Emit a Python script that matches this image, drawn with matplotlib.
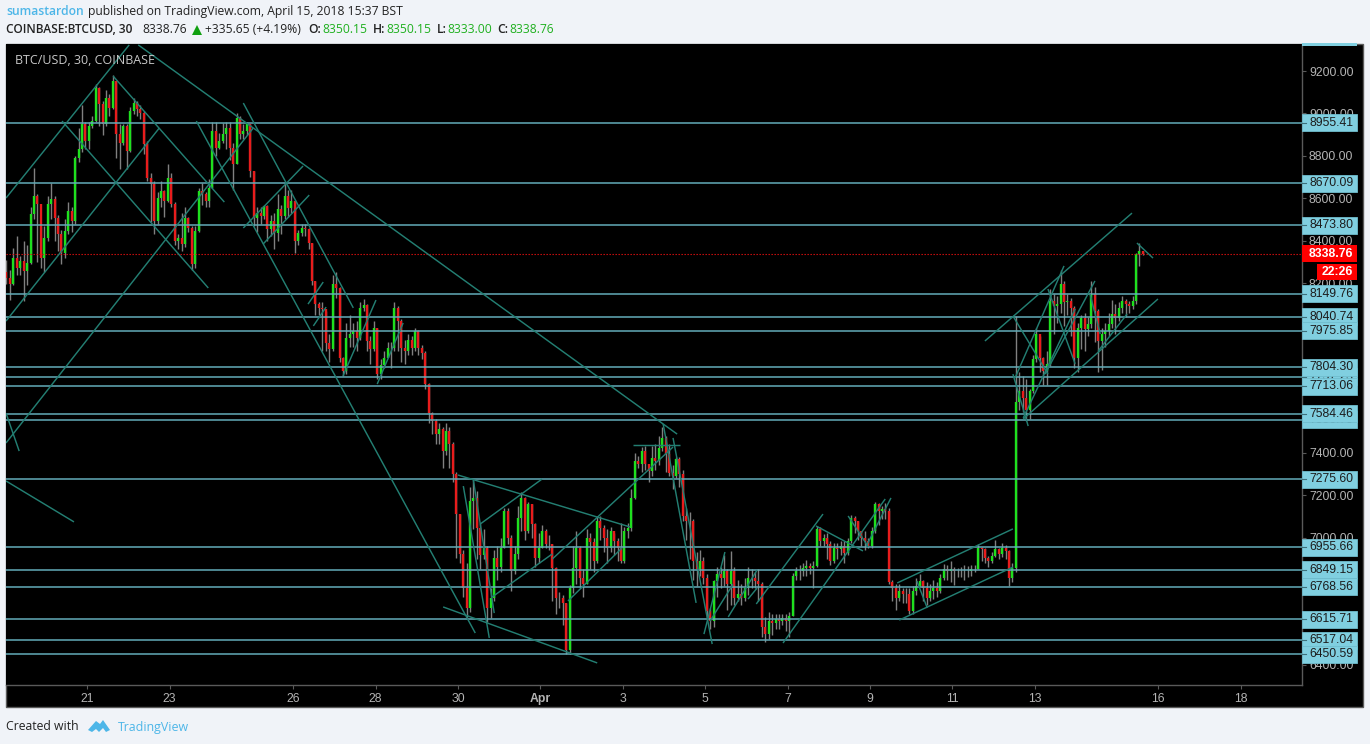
import matplotlib
matplotlib.use("Agg")
import matplotlib.pyplot as plt
from matplotlib.patches import Rectangle, Polygon
from matplotlib.lines import Line2D

W, H = 1370, 744

# ---- data: day number counted from March (Apr 1 = 32) -> 12 two-hour bars per day
days = list(range(19, 47))
closes = [
 [8225,8194,8320,8273,8304,8257,8296,8524,8610,8571,8320,8414],
 [8571,8595,8508,8430,8343,8445,8540,8493,8791,8831,8948,8870],
 [8941,8964,9121,9043,8948,9074,9027,9153,8901,8862,8941,8823],
 [9011,9051,9019,9004,8854,8697,8666,8493,8603,8634,8587,8697],
 [8571,8398,8414,8383,8508,8461,8288,8445,8634,8618,8587,8650],
 [8917,8838,8870,8901,8933,8838,8760,8980,8901,8917,8948,8730],
 [8508,8532,8516,8563,8453,8492,8437,8547,8516,8610,8555,8586],
 [8398,8437,8461,8453,8390,8209,8100,8084,8076,7918,7887,8194],
 [8178,7848,7785,7942,7958,7973,7942,8083,8099,7926,7887,7989],
 [7769,7816,7848,7895,7895,8083,8020,7895,7879,7934,7895,7973],
 [7896,7872,7723,7589,7550,7487,7510,7408,7503,7440,7298,7110],
 [6921,6764,6669,7172,7188,7047,6920,6950,6669,6717,6905,6860],
 [6952,7125,7000,6842,6921,7094,7188,7031,7157,7062,6905,6952],
 [7031,6968,6968,6858,6717,6717,6690,6470,6764,6858,6952,6811],
 [6780,7000,6980,6889,7078,7047,7000,6952,7031,6984,6952,6890],
 [7031,7047,7188,7361,7345,7408,7345,7314,7377,7361,7424,7471],
 [7393,7306,7290,7369,7300,7100,7078,7078,6890,6850,6890,6811],
 [6654,6607,6795,6827,6811,6842,6780,6842,6717,6732,6717,6764],
 [6811,6811,6795,6780,6580,6545,6607,6595,6615,6607,6620,6607],
 [6630,6820,6842,6842,6858,6866,6858,6866,7040,6984,7000,6968],
 [6890,6953,6945,6960,6929,6984,7094,7078,7031,7000,6984,6960],
 [7031,7157,7126,7133,7126,6790,6764,6717,6748,6732,6732,6654],
 [6748,6772,6796,6764,6717,6748,6764,6748,6811,6851,6843,6851],
 [6843,6843,6843,6843,6843,6851,6851,6953,6945,6906,6890,6913],
 [6945,6921,6953,6937,6811,6858,7640,7690,7660,7600,7690,7840],
 [7958,7848,7785,7817,8115,8090,8100,8194,8110,8115,8084,7848],
 [7990,8037,7982,8005,8147,8068,7927,7958,7974,8005,8052,8037],
 [8084,8115,8100,8092,8115,8335,8351,8338.76],
]
highs = [
 [8310,8260,8365,8420,8330,8400,8380,8560,8745,8620,8470,8470],
 [8610,8670,8610,8520,8450,8500,8580,8560,8800,8930,9040,8960],
 [8960,8990,9140,9125,9060,9110,9090,9180,9155,8950,8950,8950],
 [9030,9075,9060,9040,9010,8870,8720,8680,8630,8680,8640,8760],
 [8720,8580,8430,8530,8560,8510,8470,8470,8650,8670,8630,8690],
 [8960,8960,8910,8955,8960,8960,8860,9000,8990,8950,8960,8950],
 [8730,8560,8560,8570,8570,8520,8530,8620,8570,8665,8640,8640],
 [8590,8450,8480,8480,8460,8390,8210,8110,8110,8070,7960,8240],
 [8250,8180,7850,8010,8050,8010,8020,8110,8125,8100,7950,8020],
 [7990,7840,7880,7920,7920,8110,8090,8030,7930,7960,7950,7990],
 [7980,7910,7880,7730,7590,7560,7540,7520,7540,7520,7450,7310],
 [7110,6940,6880,7240,7270,7220,7070,7040,6960,6760,6940,6960],
 [7000,7140,7140,7010,6960,7150,7215,7190,7170,7160,7070,7020],
 [7060,7040,7010,6970,6860,6745,6730,6690,6775,6960,7030,6960],
 [6850,7040,7020,7000,7100,7100,7060,7040,7050,7020,7000,7070],
 [7050,7070,7230,7400,7385,7425,7430,7330,7430,7440,7480,7520],
 [7480,7440,7340,7380,7380,7320,7140,7120,7090,6930,6940,6910],
 [6830,6670,6800,6860,6860,6920,6850,6935,6860,6800,6780,6810],
 [6860,6850,6840,6850,6790,6625,6650,6640,6640,6640,6640,6640],
 [6650,6835,6860,6870,6880,6895,6880,6890,7055,7050,7015,7020],
 [6985,6975,6975,6985,6985,7000,7105,7100,7080,7030,7030,7000],
 [7050,7170,7165,7150,7165,7140,6800,6780,6780,6760,6760,6760],
 [6770,6810,6830,6800,6790,6780,6800,6790,6830,6875,6870,6890],
 [6860,6855,6860,6870,6865,6870,6870,6970,6955,6950,6915,6930],
 [6990,6950,6975,6965,6940,6880,8045,7780,7760,7750,7700,7860],
 [7990,7950,7850,7880,8170,8150,8140,8260,8210,8150,8130,8090],
 [8010,8050,8060,8040,8210,8180,8080,7990,8010,8060,8120,8100],
 [8110,8140,8125,8115,8140,8340,8390,8350],
]
lows = [
 [8195,8120,8190,8240,8240,8115,8190,8290,8500,8300,8270,8250],
 [8400,8500,8400,8350,8290,8320,8430,8440,8480,8770,8820,8830],
 [8830,8930,8960,8940,8900,8940,8990,9020,8790,8740,8850,8740],
 [8820,8995,8990,8975,8810,8680,8490,8430,8480,8560,8510,8580],
 [8560,8380,8360,8350,8370,8440,8260,8270,8440,8570,8560,8560],
 [8650,8800,8830,8860,8830,8780,8640,8760,8880,8880,8900,8700],
 [8470,8440,8480,8500,8400,8420,8360,8400,8430,8500,8510,8530],
 [8340,8380,8420,8420,8360,8190,8050,8050,7880,7880,7830,7880],
 [8130,7830,7760,7770,7900,7900,7880,7930,8070,7880,7820,7880],
 [7750,7750,7800,7850,7800,7880,7880,7830,7820,7860,7860,7880],
 [7860,7840,7700,7540,7490,7440,7440,7330,7390,7330,7260,6905],
 [6880,6720,6620,6650,7040,6900,6850,6900,6600,6620,6700,6800],
 [6840,6950,6970,6750,6830,6900,7030,6990,7020,7000,6860,6880],
 [6950,6950,6940,6700,6640,6670,6590,6450,6450,6740,6780,6760],
 [6720,6780,6850,6840,6880,6990,6930,6880,6930,6920,6890,6880],
 [6880,7000,7030,7180,7330,7310,7320,7260,7290,7320,7340,7410],
 [7310,7290,7230,7280,7240,7080,6990,6900,6800,6770,6820,6780],
 [6620,6570,6580,6720,6760,6770,6660,6680,6680,6700,6680,6700],
 [6730,6760,6760,6700,6530,6510,6520,6540,6570,6570,6590,6560],
 [6530,6630,6800,6800,6820,6820,6830,6760,6860,6960,6960,6900],
 [6870,6880,6900,6920,6880,6920,6975,7020,6990,6960,6940,6950],
 [6950,7020,7060,7090,7090,6780,6700,6660,6700,6690,6690,6640],
 [6640,6730,6770,6700,6680,6700,6710,6720,6740,6800,6800,6790],
 [6775,6815,6815,6800,6815,6820,6840,6850,6890,6880,6860,6880],
 [6910,6900,6910,6900,6770,6790,6840,7600,7590,7550,7560,7680],
 [7830,7780,7720,7720,7810,7960,8010,8060,8000,8050,7950,7800],
 [7780,7890,7880,7950,7990,7920,7780,7790,7900,7950,7990,7960],
 [8020,8060,8040,8060,8080,8100,8280,8333],
]
first_open = 8250
last_price = 8338.76

levels = [7757.23, 7556.75, 8955.41, 8670.09, 8473.80, 8149.76, 8040.74, 7975.85,
          7804.30, 7713.06, 7584.46, 7275.60, 6955.66, 6849.15, 6768.56, 6615.71,
          6517.04, 6450.59]

# trend lines drawn on the chart: (day0, price0, day1, price1)
trend_lines = [
 (19.03,8601,22.02,9323),(22.24,9323,35.32,7488),(20.39,8964,23.94,8177),
 (21.63,9176,24.33,8582),(19.03,8021,22.75,8931),(19.03,7446,25.03,8931),
 (19.03,7587,19.35,7408),(19.03,7267,20.68,7074),(23.65,8964,30.42,6550),
 (24.79,9049,27.46,8083),(24.79,8460,26.24,8752),(25.27,8384,26.39,8615),
 (26.36,8101,26.73,8205),(26.49,7998,26.80,8087),(27.21,7762,28.01,8120),
 (28.04,7724,28.67,8012),(30.00,7295,34.18,7050),(29.64,6673,33.38,6409),
 (30.13,7243,30.76,6527),(30.37,7276,30.88,6644),(30.54,7064,32.04,7276),
 (30.83,6720,32.29,6923),(32.29,6899,35.22,7427),(32.67,6701,33.98,6951),
 (34.25,7437,35.39,7437),(34.98,7536,35.78,6692),(35.22,7470,36.17,6498),
 (35.97,6545,36.48,6932),(36.56,6626,37.26,6847),(36.12,6607,36.68,6781),
 (37.04,6710,37.26,6762),(37.24,6687,38.86,7111),(37.89,6503,40.37,7182),
 (38.69,7055,39.83,6937),(39.47,7102,39.96,6956),(39.91,6960,40.51,7187),
 (40.66,6786,43.47,7041),(40.71,6611,43.47,6861),(41.14,6795,41.39,6668),
 (42.79,7927,46.36,8530),(43.72,7559,46.99,8125),(43.47,8045,44.32,7771),
 (43.47,7771,43.84,7526),(43.52,7752,44.71,8281),(43.72,7564,44.98,8078),
 (44.25,7771,45.46,8210),(44.32,8172,44.98,7819),(45.54,7880,46.24,8054),
 (46.48,8389,46.87,8318),(45.34,8149,45.59,7960),
]

y_ticks = list(range(6400, 9400, 200))
x_tick_days = [21, 23, 26, 28, 30, 32, 34, 36, 38, 40, 42, 44, 47, 49]
x_tick_labels = ["21", "23", "26", "28", "30", "Apr", "3", "5", "7", "9", "11", "13", "16", "18"]

# ---- style
BG = "#f0f3f8"
UP = "#1ee01e"
DOWN = "#e81c1c"
WICK = "#808080"
LEVEL = "#63acb8"
TREND = "#237e72"
BOX = "#80cfe0"
AXTXT = "#b4b4b4"
AXLINE = "#5a5a5a"
SANS = "Liberation Sans"
HEAD = "Open Sans"
BLUE = "#4db6e8"
GREEN = "#1fb01f"

fig = plt.figure(figsize=(W / 100, H / 100), dpi=100, facecolor=BG)

def fx(x): return x / W
def fy(y): return 1 - y / H

# black chart frame including price and time strips
fig.add_artist(Rectangle((fx(6), fy(707)), (1363 - 6) / W, (707 - 44) / H, transform=fig.transFigure,
                         facecolor="black", edgecolor=AXLINE, linewidth=1.0, zorder=0))
x0, x1, y0, y1 = 6, 1302, 44, 685
ax = fig.add_axes([fx(x0), fy(y1), (x1 - x0) / W, (y1 - y0) / H], facecolor="black", zorder=1)
ax.set_xlim(19.03, 19.03 + (x1 - x0) / 41.2)
ax.set_ylim(9200 - (y1 - 71) * 4.715, 9200 + 27 * 4.715)

# ---- candles
times, opens, hi, lo, cl = [], [], [], [], []
prev = first_open
for d, cs, hs, ls in zip(days, closes, highs, lows):
    for i, (c, h, l) in enumerate(zip(cs, hs, ls)):
        times.append(d + (i + 0.5) / 12)
        opens.append(prev); cl.append(c); hi.append(h); lo.append(l)
        prev = c

ax.vlines(times, lo, hi, colors=WICK, linewidth=1.0, capstyle="butt", zorder=2)
colors = [UP if c >= o else DOWN for o, c in zip(opens, cl)]
ax.vlines(times, opens, cl, colors=colors, linewidth=1.7, capstyle="butt", zorder=2.2)

# ---- horizontal levels, last price, trend lines
for lv in levels:
    ax.axhline(lv, color=LEVEL, linewidth=1.1, zorder=3)
ax.axhline(last_price, color="#e01010", linewidth=0.8, linestyle=(0, (1.2, 1.5)), zorder=3)
for d0, p0, d1, p1 in trend_lines:
    ax.plot([d0, d1], [p0, p1], color=TREND, linewidth=1.05, zorder=3.2, solid_capstyle="butt")

# ---- axes
for s in ("top", "left"):
    ax.spines[s].set_visible(False)
for s in ("right", "bottom"):
    ax.spines[s].set_color(AXLINE)
    ax.spines[s].set_linewidth(1.0)
ax.yaxis.tick_right()
ax.set_yticks(y_ticks)
ax.set_yticklabels([f"{v:.2f}" for v in y_ticks], fontsize=8.8, color=AXTXT, family=SANS)
ax.set_xticks(x_tick_days)
ax.set_xticklabels(x_tick_labels, fontsize=8.8, color=AXTXT, family=SANS)
for lab in ax.get_xticklabels():
    if lab.get_text() == "Apr":
        lab.set_fontweight("bold")
ax.tick_params(axis="y", length=3, width=0.8, color=AXLINE, pad=2)
ax.tick_params(axis="x", length=3, width=0.8, color=AXLINE, pad=3)

# ---- price labels (each stacked above the previous one)
tr = ax.get_yaxis_transform()
axw = x1 - x0
px2usd = 4.715
for n, lv in enumerate(levels):
    z = 5 + n * 0.05
    ax.add_patch(Rectangle((1.0, lv - 8.5 * px2usd), 55 / axw, 17 * px2usd, transform=tr, clip_on=False,
                           facecolor=BOX, edgecolor="#6fbccd", linewidth=0.6, zorder=z))
    ax.text(1 + 7 / axw, lv, f"{lv:.2f}", transform=tr, va="center", ha="left", fontsize=8.8,
            family=SANS, color="#1c1c1c", zorder=z + 0.01, clip_on=False)
    ax.add_line(Line2D([1.0, 1 + 3.5 / axw], [lv, lv], transform=tr, color="#3d6f7a", linewidth=0.8,
                       clip_on=False, zorder=z + 0.01))

ax.add_patch(Rectangle((1.0, last_price - 8.5 * px2usd), 55 / axw, 17 * px2usd, transform=tr, clip_on=False,
                       facecolor="#ff0000", edgecolor="none", zorder=7))
ax.text(1 + 7 / axw, last_price, f"{last_price:.2f}", transform=tr, va="center", ha="left", fontsize=8.8,
        family=SANS, color="white", fontweight="bold", zorder=8, clip_on=False)
ax.add_patch(Rectangle((1 + 15 / axw, last_price - 26 * px2usd), 40 / axw, 16 * px2usd, transform=tr, clip_on=False,
                       facecolor="#ff0000", edgecolor="none", zorder=7))
ax.text(1 + 35 / axw, last_price - 18 * px2usd, "22:26", transform=tr, va="center", ha="center", fontsize=8.8,
        family=SANS, color="white", fontweight="bold", zorder=8, clip_on=False)
# label of a level just above the visible range
fig.add_artist(Rectangle((fx(1302), fy(46)), 55 / W, 2.5 / H, transform=fig.transFigure,
                         facecolor=BOX, edgecolor="none", zorder=5))

fig.text(fx(15), fy(60.5), "BTC/USD, 30, COINBASE", color="#c8c8c8", fontsize=9.0, family=HEAD,
         va="center", ha="left", zorder=4)

# ---- header
def head(x, y, s, color="#222222", weight="normal", size=8.7):
    fig.text(fx(x), fy(y), s, color=color, fontsize=size, fontweight=weight, family=HEAD,
             va="center", ha="left")

head(6, 11.5, "sumastardon", BLUE, "semibold")
head(88.5, 11.5, "published on TradingView.com, April 15, 2018 15:37 BST")
head(6, 29.5, "COINBASE:BTCUSD, 30", "#222222", "semibold", 8.6)
head(142, 29.5, "8338.76")
fig.add_artist(Polygon([(fx(192), fy(35)), (fx(202), fy(35)), (fx(197), fy(25))], closed=True,
                       transform=fig.transFigure, facecolor="#10a010", edgecolor="none"))
head(205, 29.5, "+335.65 (+4.19%)")
for lx, lab, vx, val in [(308, "O:", 322, "8350.15"), (373, "H:", 386, "8350.15"),
                         (437, "L:", 447, "8333.00"), (497, "C:", 509, "8338.76")]:
    head(lx, 29.5, lab, "#222222", "semibold")
    head(vx, 29.5, val, GREEN)

# ---- footer
head(6, 727, "Created with", size=8.8)
head(118, 727, "TradingView", BLUE, size=8.9)
logo = [(88, 730), (96, 721), (100, 724), (103, 720), (110, 730), (106, 732), (103, 728), (99, 732), (96, 729), (92, 732)]
fig.add_artist(Polygon([(fx(a), fy(b)) for a, b in logo], closed=True, transform=fig.transFigure,
                       facecolor=BLUE, edgecolor="none"))

fig.savefig("out.png", dpi=100, facecolor=BG)
